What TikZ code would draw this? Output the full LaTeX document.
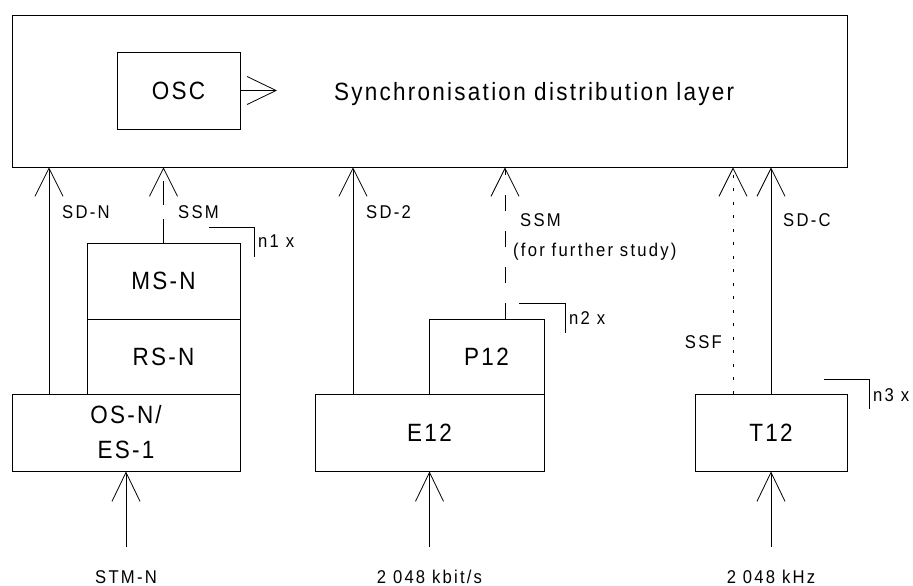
\documentclass[tikz,border=0pt]{standalone}
\usepackage{fontspec}
\setmainfont{Liberation Sans}
\newfontfamily\bigf{Liberation Sans}[FakeStretch=0.9,LetterSpace=9]
\newfontfamily\smallf{Liberation Sans}[FakeStretch=0.9,LetterSpace=12]
\usetikzlibrary{arrows.meta}
\begin{document}
\begin{tikzpicture}[x=1pt,y=-1pt,
  box/.style={draw, line width=0.9pt, inner sep=0pt, font=\bigf\fontsize{25}{35}\selectfont, align=center},
  sig/.style={line width=0.8pt, -{Straight Barb[length=28pt,width=28pt,line width=0.8pt]}},
  inarrow/.style={line width=0.8pt, -{Straight Barb[length=29pt,width=28pt,line width=0.8pt]}},
  ssmline/.style={dash pattern=on 24pt off 14pt},
  ssmlineb/.style={dash pattern=on 16pt off 20pt},
  ssfline/.style={dash pattern=on 3pt off 10.5pt},
  lab/.style={font=\smallf\fontsize{18.5}{32}\selectfont, inner sep=0pt, anchor=base west},
  brk/.style={line width=0.8pt}]
\useasboundingbox (0,0) rectangle (913,586);

% boxes
\node[box, minimum width=835pt, minimum height=152pt] (top) at (429.5,91) {};
\node[box, minimum width=123pt, minimum height=77pt] (osc) at (178.5,90.5) {OSC};
\node[font=\bigf\fontsize{25}{35}\selectfont, inner sep=0pt, anchor=base west] (sdl) at (334,100) {Synchronisation distribution layer};
\node[box, minimum width=153pt, minimum height=76pt] (ms) at (163.5,281) {MS-N};
\node[box, minimum width=153pt, minimum height=75pt] (rs) at (163.5,356.5) {RS-N};
\node[box, minimum width=228pt, minimum height=77pt] (os) at (126,432.5) {OS-N/\\ES-1};
\node[box, minimum width=115pt, minimum height=75pt] (p12) at (486.5,356.5) {P12};
\node[box, minimum width=229pt, minimum height=77pt] (e12) at (429.5,432.5) {E12};
\node[box, minimum width=152pt, minimum height=77pt] (t12) at (771,432.5) {T12};

% OSC arrow
\coordinate (oscend) at (277,90.5);
\draw[inarrow] (osc.east) -- (oscend);

% x positions
\coordinate (xsdn) at (49,0);
\coordinate (xssm) at (163.5,0);
\coordinate (xsd2) at (353,0);
\coordinate (xssm2) at (505,0);
\coordinate (xssf) at (733,0);
\coordinate (xsdc) at (771,0);

% signals to the top layer
\draw[sig] (os.north -| xsdn) -- (top.south -| xsdn);
\draw[sig, ssmline] (ms.north) -- (top.south -| xssm);
\draw[sig] (e12.north -| xsd2) -- (top.south -| xsd2);
\draw[sig, ssmlineb] (p12.north -| xssm2) -- (top.south -| xssm2);
\draw[sig, ssfline] (t12.north -| xssf) -- (top.south -| xssf);
\draw[sig] (t12.north -| xsdc) -- (top.south -| xsdc);

% labels
\node[lab] (lsdn) at (62,218.3) {SD-N};
\node[lab] (lssm) at (178,218.3) {SSM};
\node[lab] (lsd2) at (366,218.3) {SD-2};
\node[lab] (lssm2) at (520,226) {SSM};
\node[lab] (lffs) at (513,256) {(for further study)};
\node[lab] (lsdc) at (783,226) {SD-C};
\node[lab, anchor=base east] (lssf) at (722,348) {SSF};

% multiplicity brackets
\coordinate (b1a) at (209,227);
\coordinate (b1b) at (254,227);
\coordinate (b1c) at (254,257);
\draw[brk] (b1a) -- (b1b) -- (b1c);
\node[lab] (n1) at (258,247) {n1 x};
\coordinate (b2a) at (519,303);
\coordinate (b2b) at (565,303);
\coordinate (b2c) at (565,333);
\draw[brk] (b2a) -- (b2b) -- (b2c);
\node[lab] (n2) at (569,324) {n2 x};
\coordinate (b3a) at (824,379);
\coordinate (b3b) at (869,379);
\coordinate (b3c) at (869,409);
\draw[brk] (b3a) -- (b3b) -- (b3c);
\node[lab] (n3) at (873,401) {n3 x};

% inputs
\coordinate (in1) at (126,547);
\coordinate (in2) at (429.5,547);
\coordinate (in3) at (771,547);
\draw[inarrow] (in1) -- (os.south);
\draw[inarrow] (in2) -- (e12.south);
\draw[inarrow] (in3) -- (t12.south);
\node[lab, anchor=base] (stm) at (126,583) {STM-N};
\node[lab, anchor=base] (kbit) at (429.5,583) {2 048 kbit/s};
\node[lab, anchor=base] (khz) at (771,583) {2 048 kHz};
\end{tikzpicture}
\end{document}
